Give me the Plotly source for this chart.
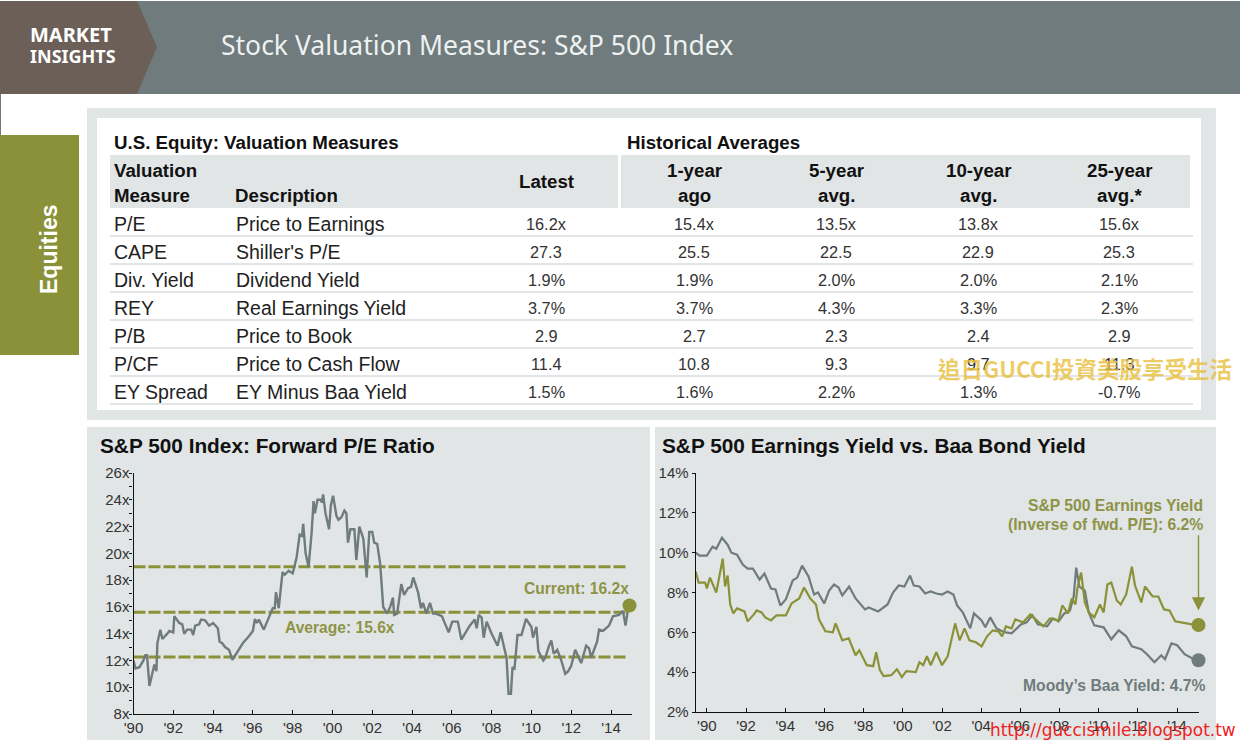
import plotly.graph_objects as go

# ---------- data ----------
measures = ["P/E", "CAPE", "Div. Yield", "REY", "P/B", "P/CF", "EY Spread"]
descriptions = ["Price to Earnings", "Shiller's P/E", "Dividend Yield", "Real Earnings Yield",
                "Price to Book", "Price to Cash Flow", "EY Minus Baa Yield"]
latest = ["16.2x", "27.3", "1.9%", "3.7%", "2.9", "11.4", "1.5%"]
year1 = ["15.4x", "25.5", "1.9%", "3.7%", "2.7", "10.8", "1.6%"]
year5 = ["13.5x", "22.5", "2.0%", "4.3%", "2.3", "9.3", "2.2%"]
year10 = ["13.8x", "22.9", "2.0%", "3.3%", "2.4", "9.7", "1.3%"]
year25 = ["15.6x", "25.3", "2.1%", "2.3%", "2.9", "11.3", "-0.7%"]

pe_x = [1990.0,1990.1,1990.3,1990.5,1990.6,1990.68,1990.8,1990.95,1991.05,1991.15,1991.2,1991.35,1991.45,1991.7,1991.8,1992.0,1992.05,1992.3,1992.45,1992.55,1992.7,1992.9,1993.0,1993.1,1993.3,1993.4,1993.6,1993.8,1994.0,1994.15,1994.24,1994.33,1994.45,1994.6,1994.8,1994.97,1995.2,1995.5,1995.8,1996.0,1996.1,1996.2,1996.3,1996.55,1996.8,1997.0,1997.1,1997.16,1997.3,1997.49,1997.6,1997.8,1998.0,1998.2,1998.35,1998.47,1998.53,1998.65,1998.8,1998.95,1999.05,1999.12,1999.25,1999.4,1999.47,1999.53,1999.65,1999.83,1999.92,2000.03,2000.2,2000.3,2000.45,2000.6,2000.7,2000.78,2000.9,2001.1,2001.2,2001.35,2001.55,2001.72,2001.85,2002.0,2002.1,2002.25,2002.4,2002.55,2002.75,2002.9,2003.04,2003.1,2003.25,2003.46,2003.6,2003.8,2003.95,2004.06,2004.3,2004.45,2004.55,2004.72,2004.9,2005.05,2005.2,2005.5,2005.7,2005.84,2006.02,2006.3,2006.48,2006.9,2007.15,2007.25,2007.35,2007.5,2007.6,2007.75,2008.0,2008.3,2008.45,2008.65,2008.75,2008.85,2008.97,2009.05,2009.15,2009.3,2009.5,2009.73,2010.0,2010.08,2010.25,2010.35,2010.6,2010.7,2010.86,2011.0,2011.12,2011.3,2011.5,2011.7,2011.85,2012.0,2012.2,2012.35,2012.5,2012.75,2012.9,2013.0,2013.3,2013.4,2013.6,2013.9,2014.1,2014.4,2014.6,2014.73,2014.85,2014.93]
pe_y = [12.0,11.4,11.5,12.0,12.4,12.4,10.1,11.2,11.7,11.2,13.3,14.3,13.6,14.0,14.2,14.1,15.3,14.8,14.7,14.0,14.3,14.3,13.9,14.6,14.7,15.05,15.0,14.6,14.8,14.55,14.4,13.4,13.3,13.0,12.8,12.05,12.6,13.3,13.8,14.2,15.1,14.8,15.05,14.3,15.2,15.9,15.9,17.1,15.9,18.6,18.4,18.7,18.5,19.7,21.4,21.3,22.2,20.0,19.0,21.5,23.9,23.0,24.0,24.0,23.8,24.4,23.0,21.8,23.6,24.3,22.8,22.5,22.7,23.2,23.0,20.8,21.8,21.8,19.5,22.0,21.1,18.2,21.6,21.6,20.8,20.7,19.2,16.0,15.5,16.0,16.7,15.4,15.5,17.7,16.9,17.4,17.5,18.2,17.1,15.9,16.3,15.5,16.3,15.5,15.5,15.3,14.6,14.1,14.9,14.9,13.55,14.6,15.05,14.4,15.4,15.2,13.7,14.9,14.0,13.1,14.1,12.7,12.2,9.5,9.5,11.5,11.4,13.9,13.9,15.1,14.5,13.7,14.5,12.7,12.0,12.2,13.0,13.5,12.5,12.8,12.0,11.0,11.2,11.6,12.8,12.3,11.8,13.1,12.9,12.2,13.4,14.3,14.2,14.6,15.3,15.4,15.7,14.6,15.8,16.1]
band_x = [1990.0, 2014.8]
band_upper = [19.0, 19.0]
band_avg = [15.6, 15.6]
band_lower = [12.25, 12.25]

baa_x = [1989.43,1989.62,1990.0,1990.29,1990.48,1990.77,1991.06,1991.25,1991.54,1991.83,1992.08,1992.35,1992.69,1992.94,1993.27,1993.5,1993.75,1994.03,1994.38,1994.61,1994.86,1995.19,1995.47,1995.67,1995.99,1996.24,1996.49,1996.72,1996.91,1997.26,1997.59,1998.07,1998.26,1998.74,1999.22,1999.5,1999.79,2000.08,2000.37,2000.56,2000.85,2001.14,2001.42,2001.71,2002.0,2002.29,2002.58,2002.77,2003.06,2003.44,2003.63,2004.02,2004.21,2004.46,2004.78,2005.07,2005.26,2005.55,2006.03,2006.32,2006.61,2006.89,2007.37,2007.66,2007.95,2008.24,2008.53,2008.72,2008.85,2009.01,2009.29,2009.49,2009.77,2010.25,2010.64,2011.02,2011.4,2011.69,2012.17,2012.46,2012.84,2013.19,2013.38,2013.71,2014.0,2014.38,2014.76,2015.09]
baa_y = [10.0,9.85,9.85,10.3,10.2,10.75,10.4,10.0,9.9,9.4,9.2,9.2,8.65,8.95,8.2,8.15,7.35,7.65,8.6,8.75,9.35,8.8,7.9,8.0,7.45,8.1,8.4,8.25,7.85,8.3,7.7,7.15,7.25,7.05,7.4,8.0,8.35,8.3,8.85,8.35,8.3,7.95,8.05,7.95,7.9,8.05,7.9,7.35,7.0,6.2,6.95,6.6,6.25,6.75,6.2,6.05,6.0,5.95,6.4,6.5,6.85,6.4,6.3,6.7,6.55,6.95,7.1,7.8,9.25,8.3,8.1,7.0,6.35,6.25,5.65,6.1,5.8,5.3,5.15,4.9,4.5,4.85,4.65,5.45,5.35,4.9,4.7,4.6]
ey_x = [1989.43,1989.58,1989.91,1990.0,1990.16,1990.48,1990.81,1990.93,1991.06,1991.19,1991.35,1991.54,1991.92,1992.08,1992.4,1992.54,1992.79,1992.98,1993.27,1993.55,1994.03,1994.32,1994.71,1994.96,1995.28,1995.57,1995.72,1996.05,1996.43,1996.57,1996.91,1997.24,1997.59,1997.78,1998.16,1998.49,1998.64,1998.83,1999.02,1999.41,1999.7,1999.95,2000.18,2000.66,2000.85,2001.04,2001.23,2001.42,2001.71,2002.0,2002.29,2002.48,2002.67,2002.9,2003.15,2003.4,2003.73,2004.02,2004.3,2004.59,2004.88,2005.07,2005.26,2005.55,2005.74,2006.13,2006.51,2006.89,2007.18,2007.51,2007.95,2008.14,2008.43,2008.62,2008.81,2008.91,2009.1,2009.29,2009.49,2009.77,2010.06,2010.25,2010.44,2010.64,2010.92,2011.12,2011.4,2011.69,2011.85,2012.17,2012.36,2012.75,2013.04,2013.33,2013.61,2013.9,2014.38,2014.76,2015.09]
ey_y = [9.05,8.5,8.5,8.2,8.75,8.0,9.7,8.3,8.85,7.4,6.95,7.2,7.05,6.55,6.9,7.1,7.0,6.75,6.6,6.85,6.85,7.45,7.7,8.25,7.7,7.4,6.65,6.05,6.0,6.45,5.6,5.7,4.85,5.1,4.35,4.3,5.0,4.1,3.8,3.85,4.15,3.75,4.05,4.0,4.5,4.35,4.8,4.35,5.0,4.35,4.8,5.6,6.45,5.6,6.2,5.6,5.5,5.3,5.8,6.1,6.05,5.8,6.3,6.2,6.65,6.5,6.9,6.55,6.3,6.7,6.6,7.35,6.95,7.7,7.4,8.2,9.0,7.5,7.0,6.75,7.4,7.0,8.4,8.5,7.6,7.4,7.9,9.3,8.35,7.5,8.3,7.8,7.8,7.15,7.1,6.55,6.45,6.4,6.37]

pe_ticks = list(range(1990, 2015, 2))
yield_ticks = list(range(1990, 2015, 2))
tick_labels = ["'90","'92","'94","'96","'98","'00","'02","'04","'06","'08","'10","'12","'14"]
pe_yticks = list(range(8, 27, 2))
pe_ylabels = ["8x","10x","12x","14x","16x","18x","20x","22x","24x","26x"]
yield_yticks = list(range(2, 15, 2))
yield_ylabels = ["2%","4%","6%","8%","10%","12%","14%"]

# ---------- style ----------
W, H = 1240, 740
OLIVE = "#8b9139"
OLIVE_T = "#8e9347"
SLATE = "#6f7b7c"
PANEL = "#e1e5e5"
INK = "#111111"
FONT = "Liberation Sans"

px = lambda v: v / W
py = lambda v: 1 - v / H

shapes, notes = [], []

def rect(x0, y0, x1, y1, color):
    shapes.append(dict(type="rect", xref="paper", yref="paper", x0=px(x0), x1=px(x1),
                       y0=py(y0), y1=py(y1), fillcolor=color, line_width=0, layer="below"))

def text(x, y, s, size=18, color=INK, bold=False, anchor="left", font=FONT, angle=0):
    notes.append(dict(xref="paper", yref="paper", x=px(x), y=py(y), text=f"<b>{s}</b>" if bold else s,
                      showarrow=False, xanchor=anchor, yanchor="middle", textangle=angle,
                      borderpad=0, borderwidth=0,
                      font=dict(size=size, color=color, family=font)))

# header
rect(0, 1, 1240, 94, SLATE)
shapes.append(dict(type="path", xref="paper", yref="paper", line_width=0, fillcolor="#6b5f58", layer="below",
                   path=f"M 0 {py(1)} L {px(137)} {py(1)} L {px(157)} {py(47)} L {px(137)} {py(94)} L 0 {py(94)} Z"))
rect(0, 94, 1, 135, "#777777")
text(30, 35, "MARKET", 20, "white", True, font="Noto Sans")
text(30, 56, "INSIGHTS", 18, "white", True, font="Noto Sans")
text(221, 45, "Stock Valuation Measures: S&amp;P 500 Index", 26.5, "#eef1f1", font="Noto Sans")

# sidebar
rect(0, 135, 79, 355, OLIVE)
text(49, 249, "Equities", 23, "white", True, anchor="center", angle=-90)

# panels
rect(87, 108, 1216, 420, PANEL)
rect(97, 118, 1201, 410, "white")
rect(87, 427, 650, 740, PANEL)
rect(655, 427, 1216, 740, PANEL)

# table
rect(110, 155, 618, 208, PANEL)
rect(621, 155, 1190, 208, PANEL)
text(114, 142, "U.S. Equity: Valuation Measures", 18.7, bold=True)
text(627, 142, "Historical Averages", 18.7, bold=True)
text(114, 170, "Valuation", 18.7, bold=True)
text(114, 196, "Measure", 18.7, bold=True)
text(235, 196, "Description", 18.7, bold=True)
text(546, 181, "Latest", 18.7, bold=True, anchor="center")
col_x = [694, 836, 978, 1119]
for x, top, bottom in zip(col_x, ["1-year","5-year","10-year","25-year"], ["ago","avg.","avg.","avg.*"]):
    text(x, 170, top, 18.7, bold=True, anchor="center")
    text(x, 196, bottom, 18.7, bold=True, anchor="center")

row_y = [224, 252, 280, 308, 336, 364, 392]
for i, y in enumerate(row_y):
    text(114, y, measures[i], 19.5, "#222222")
    text(236, y, descriptions[i], 19.5, "#222222")
    text(546, y, latest[i], 16.3, "#333333", anchor="center")
    for x, col in zip(col_x, [year1, year5, year10, year25]):
        text(x, y, col[i], 16.3, "#333333", anchor="center")
    rect(110, y + 11, 1193, y + 13, PANEL)

# chart titles
text(100, 446, "S&amp;P 500 Index: Forward P/E Ratio", 20.8, bold=True)
text(662, 446, "S&amp;P 500 Earnings Yield vs. Baa Bond Yield", 20.8, bold=True)

# chart labels
text(629, 588, "Current: 16.2x", 15.6, OLIVE_T, True, anchor="right")
text(285, 627, "Average: 15.6x", 15.6, OLIVE_T, True)
text(1203, 505, "S&amp;P 500 Earnings Yield", 15.7, OLIVE_T, True, anchor="right")
text(1203, 524, "(Inverse of fwd. P/E): 6.2%", 15.7, OLIVE_T, True, anchor="right")
text(1206, 685, "Moody’s Baa Yield: 4.7%", 15.7, SLATE, True, anchor="right")

# watermarks
text(938, 368, "追日GUCCI投資美股享受生活", 22.5, "rgba(232,190,60,0.8)", True, font="Noto Sans CJK TC")
text(990, 730, "http://guccismile.blogspot.tw", 16.9, "#ee2222", font="DejaVu Sans")

# arrow in chart 2
notes.append(dict(xref="x2", yref="y2", axref="x2", ayref="y2", x=2015.09, y=7.1, ax=2015.09, ay=10.95,
                  text="", showarrow=True, arrowhead=2, arrowsize=1.9, arrowwidth=1.4, arrowcolor=OLIVE))

fig = go.Figure()
dash = dict(color=OLIVE, width=3, dash="12px,3px")
for band in (band_upper, band_avg, band_lower):
    fig.add_trace(go.Scatter(x=band_x, y=band, mode="lines", line=dash, xaxis="x", yaxis="y"))
fig.add_trace(go.Scatter(x=pe_x, y=pe_y, mode="lines", line=dict(color=SLATE, width=2.4), xaxis="x", yaxis="y"))
fig.add_trace(go.Scatter(x=pe_x[-1:], y=pe_y[-1:], mode="markers", marker=dict(color=OLIVE, size=14),
                         cliponaxis=False, xaxis="x", yaxis="y"))
fig.add_trace(go.Scatter(x=baa_x, y=baa_y, mode="lines", line=dict(color=SLATE, width=2.2), xaxis="x2", yaxis="y2"))
fig.add_trace(go.Scatter(x=ey_x, y=ey_y, mode="lines", line=dict(color=OLIVE, width=2.2), xaxis="x2", yaxis="y2"))
fig.add_trace(go.Scatter(x=ey_x[-1:], y=ey_y[-1:], mode="markers", marker=dict(color=OLIVE, size=14),
                         cliponaxis=False, xaxis="x2", yaxis="y2"))
fig.add_trace(go.Scatter(x=baa_x[-1:], y=baa_y[-1:], mode="markers", marker=dict(color=SLATE, size=14),
                         cliponaxis=False, xaxis="x2", yaxis="y2"))

axis = dict(showgrid=False, zeroline=False, showline=True, linecolor="#111111", linewidth=1.2, automargin=False,
            ticks="outside", ticklen=3, tickcolor="#111111", tickfont=dict(size=15, color="#333333", family=FONT))
fig.update_layout(
    width=W, height=H, margin=dict(l=0, r=0, t=0, b=0, pad=0, autoexpand=False), showlegend=False, autosize=False,
    paper_bgcolor="white", plot_bgcolor="rgba(0,0,0,0)", shapes=shapes, annotations=notes,
    xaxis=dict(axis, domain=[px(133.5), px(631.5)], range=[1990, 2015.03], tickvals=pe_ticks, ticktext=tick_labels,
               anchor="y", ticks="inside", ticklen=4),
    yaxis=dict(axis, domain=[py(714), py(473)], range=[8, 26], tickvals=pe_yticks, ticktext=pe_ylabels, anchor="x",
               ticklabelstandoff=-3, minor=dict(dtick=1, ticks="outside", ticklen=3, tickcolor="#111111")),
    xaxis2=dict(axis, domain=[px(695.7), px(1198.5)], range=[1989.43, 2015.09], tickvals=yield_ticks,
                ticktext=tick_labels, anchor="y2", ticks="inside", ticklen=4),
    yaxis2=dict(axis, domain=[py(712), py(473)], range=[2, 14], tickvals=yield_yticks, ticktext=yield_ylabels,
                anchor="x2"),
)
POST = """
var s=document.createElement('style');
s.textContent='html,body{margin:0!important;padding:0!important;overflow:hidden!important;background:#fff}';
document.head.appendChild(s);
"""
fig.write_html("out.html", post_script=POST, config=dict(displayModeBar=False, responsive=False),
               default_width=W, default_height=H)
